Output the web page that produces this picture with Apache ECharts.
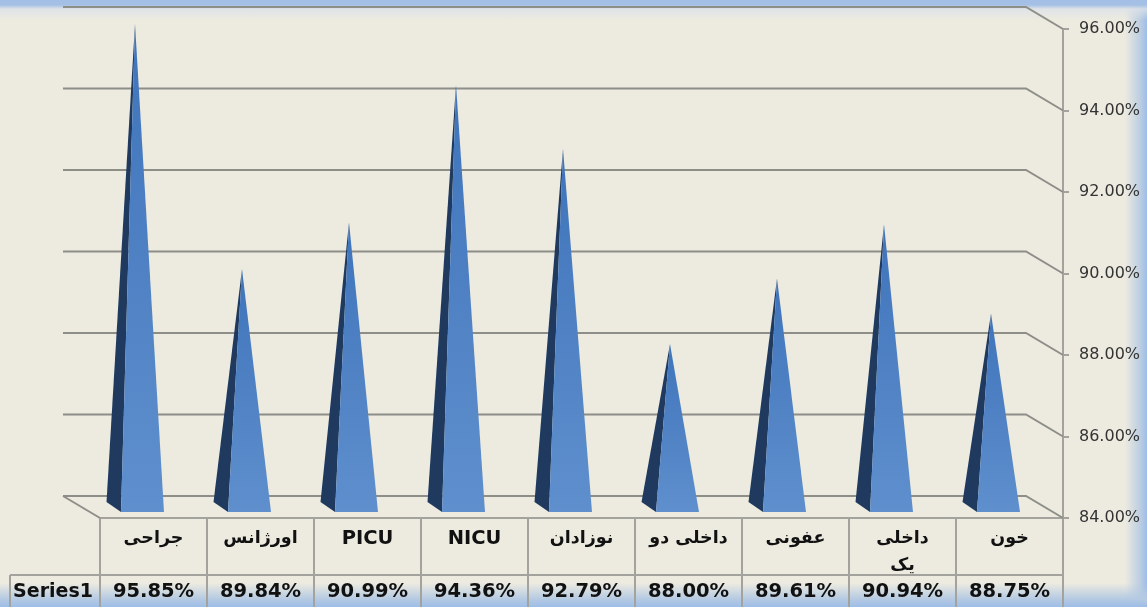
<!DOCTYPE html>
<html>
<head>
<meta charset="utf-8" />
<title>chart</title>
<script src="https://cdn.jsdelivr.net/npm/echarts@6/dist/echarts.min.js"></script>
<style>
html,body{margin:0;padding:0;height:100%;overflow:hidden;}
#main{
	width:1147px;height:607px;
	background:
		linear-gradient(to bottom, #a3bfe6 0, #a6c0e4 5px, rgba(220,226,232,0.8) 9px, rgba(237,235,224,0) 20px),
		linear-gradient(to top, #9dbde8 0, #b5cae2 8px, rgba(237,235,224,0) 24px),
		linear-gradient(to left, #9dbde8 0, #b8cce2 6px, rgba(237,235,224,0) 22px),
		#edebe0;
}
</style>
</head>
<body>
<div id="main"></div>
<script type="text/javascript">
var categories = ['جراحی', 'اورژانس', 'PICU', 'NICU', 'نوزادان', 'داخلی دو', 'عفونی', 'داخلی\nیک', 'خون'];
var values = [95.85, 89.84, 90.99, 94.36, 92.79, 88.00, 89.61, 90.94, 88.75];
var ticks = [84, 86, 88, 90, 92, 94, 96];
var seriesName = 'Series1';

var lineColor = '#8e8e88';
var tableColor = '#a3a29c';
var depthX = 37, depthY = 22;   // back wall offset

function pct(v){ return v.toFixed(2) + '%'; }

var myChart = echarts.init(document.getElementById('main'));
var option = {
	animation: false,
	backgroundColor: 'transparent',
	grid: { left: 100, right: 84, top: 29, bottom: 89 },
	xAxis: [{
		type: 'category',
		data: categories,
		axisLine: { lineStyle: { color: tableColor, width: 2 } },
		axisTick: { show: true, length: 89, lineStyle: { color: tableColor, width: 2 } },
		axisLabel: {
			interval: 0, margin: 7,
			formatter: function(v){ return /[A-Z]/.test(v) ? '{l|' + v + '}' : v; },
			rich: { l: { fontFamily: 'DejaVu Sans', fontWeight: 'bold', fontSize: 19.5, color: '#111' } },
			fontFamily: 'DejaVu Sans', fontWeight: 'bold', fontSize: 17.5, lineHeight: 27, color: '#111'
		}
	}, {
		type: 'category',
		position: 'bottom',
		offset: 62,
		data: values.map(pct),
		axisLine: { show: false },
		axisTick: { show: false },
		axisLabel: {
			interval: 0, margin: 2,
			fontFamily: 'DejaVu Sans', fontWeight: 'bold', fontSize: 19.5, color: '#111'
		}
	}],
	yAxis: {
		type: 'value',
		position: 'right',
		min: 84, max: 96, interval: 2,
		axisLine: { show: true, lineStyle: { color: tableColor, width: 2 } },
		axisTick: { show: true, length: 6, lineStyle: { color: tableColor, width: 2 } },
		splitLine: { show: false },
		axisLabel: {
			margin: 16,
			padding: [2, 0, 0, 0],
			formatter: pct,
			fontFamily: 'DejaVu Sans', fontSize: 16, color: '#333'
		}
	},
	graphic: [
		{ type: 'line', shape: { x1: 10, y1: 575, x2: 1063, y2: 575 }, style: { stroke: tableColor, lineWidth: 2 } },
		{ type: 'line', shape: { x1: 10, y1: 575, x2: 10, y2: 607 }, style: { stroke: tableColor, lineWidth: 2 } },
		{ type: 'text', x: 53, y: 592, style: {
			text: seriesName, align: 'center', verticalAlign: 'middle',
			font: 'bold 19px "DejaVu Sans"', fill: '#111'
		} }
	],
	series: [
	//wall lines
	{
		type: 'custom',
		silent: true,
		clip: false,
		data: ticks,
		encode: { y: 0 },
		renderItem: function(params, api){
			var cs = params.coordSys;
			var y = api.coord([0, api.value(0)])[1];
			var left = cs.x - depthX, right = cs.x + cs.width;
			var children = [{
				type: 'polyline',
				shape: { points: [[left, y - depthY], [right - depthX, y - depthY], [right, y]] },
				style: { stroke: lineColor, lineWidth: 2, fill: null }
			}];
			// floor left edge
			if (api.value(0) === ticks[0]) {
				children.push({
					type: 'line',
					shape: { x1: left, y1: y - depthY, x2: cs.x, y2: y },
					style: { stroke: lineColor, lineWidth: 2 }
				});
			}
			return { type: 'group', children: children };
		}
	},
	//pyramids
	{
		type: 'custom',
		name: seriesName,
		clip: false,
		data: values.map(function(v, i){ return [i, v]; }),
		encode: { x: 0, y: 1 },
		renderItem: function(params, api){
			var top = api.coord([api.value(0), api.value(1)]);
			var base = api.coord([api.value(0), ticks[0]]);
			var apex = [top[0] - 18.5, top[1] - 11];
			var frontL = [base[0] - 32.5, base[1] - 6];
			var frontR = [base[0] + 10.5, base[1] - 6];
			var backL = [base[0] - 47, base[1] - 16];
			return {
				type: 'group',
				children: [{
					type: 'polygon',
					shape: { points: [apex, frontL, backL] },
					style: { fill: '#1f3a5e' }
				}, {
					type: 'polygon',
					shape: { points: [apex, frontR, frontL] },
					style: { fill: new echarts.graphic.LinearGradient(0, 0, 0, 1, [
						{ offset: 0, color: '#3f74bb' },
						{ offset: 1, color: '#5f8fcd' }
					]) }
				}]
			};
		}
	}]
};
myChart.setOption(option);
</script>
</body>
</html>
